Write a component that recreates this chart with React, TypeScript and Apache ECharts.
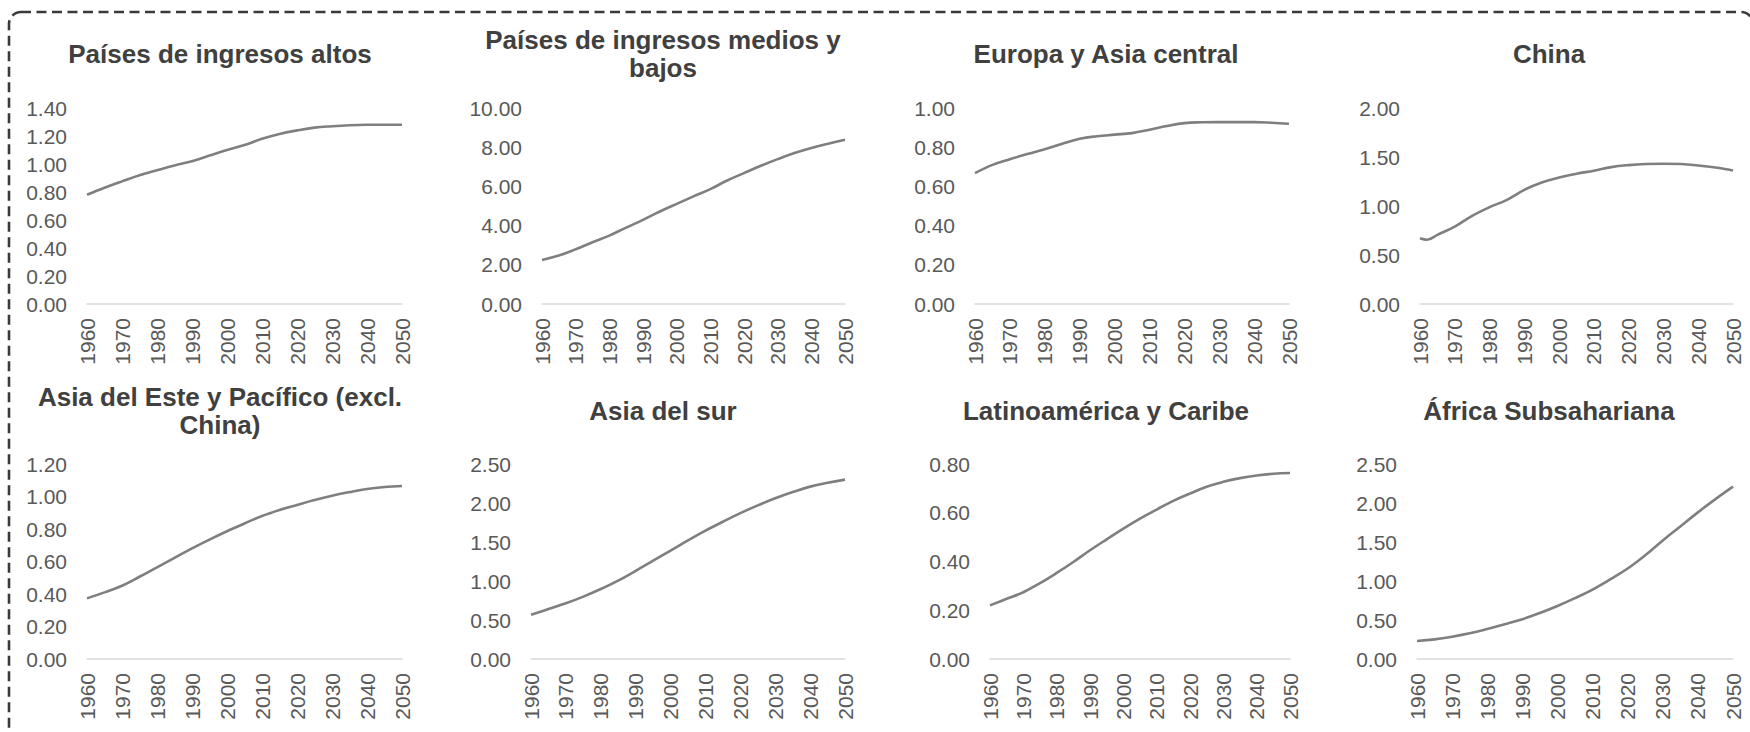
import React, { useEffect, useRef } from "react";
import * as echarts from "echarts";

const YEARS = [1960, 1965, 1970, 1975, 1980, 1985, 1990, 1995, 2000, 2005, 2010, 2015, 2020, 2025, 2030, 2035, 2040, 2045, 2050];
const CHINA_YEARS = [1960, 1962, 1965, 1970, 1975, 1980, 1985, 1990, 1995, 2000, 2005, 2010, 2015, 2020, 2025, 2030, 2035, 2040, 2045, 2050];

const TITLES = [
  "Países de ingresos altos",
  "Países de ingresos medios y\nbajos",
  "Europa y Asia central",
  "China",
  "Asia del Este y Pacífico (excl.\nChina)",
  "Asia del sur",
  "Latinoamérica y Caribe",
  "África Subsahariana",
];

const ALTOS = [0.78, 0.83, 0.876, 0.92, 0.955, 0.99, 1.02, 1.06, 1.1, 1.135, 1.18, 1.215, 1.24, 1.26, 1.27, 1.277, 1.28, 1.28, 1.28];
const MEDIOS_BAJOS = [2.25, 2.47, 2.79, 3.15, 3.49, 3.9, 4.29, 4.72, 5.11, 5.49, 5.86, 6.3, 6.68, 7.05, 7.39, 7.7, 7.96, 8.18, 8.38];
const EUROPA = [0.668, 0.71, 0.739, 0.765, 0.79, 0.818, 0.843, 0.856, 0.864, 0.872, 0.889, 0.908, 0.923, 0.927, 0.928, 0.928, 0.928, 0.925, 0.92];
const CHINA = [0.671, 0.655, 0.705, 0.79, 0.9, 0.988, 1.063, 1.165, 1.24, 1.29, 1.33, 1.36, 1.397, 1.417, 1.428, 1.431, 1.428, 1.414, 1.393, 1.363];
const ASIA_ESTE = [0.373, 0.41, 0.451, 0.506, 0.564, 0.622, 0.681, 0.735, 0.786, 0.834, 0.88, 0.917, 0.948, 0.978, 1.005, 1.027, 1.046, 1.058, 1.065];
const ASIA_SUR = [0.568, 0.64, 0.714, 0.8, 0.897, 1.005, 1.13, 1.26, 1.39, 1.52, 1.645, 1.76, 1.87, 1.97, 2.06, 2.14, 2.21, 2.26, 2.3];
const LATAM = [0.22, 0.247, 0.274, 0.311, 0.353, 0.398, 0.446, 0.491, 0.535, 0.576, 0.613, 0.649, 0.679, 0.707, 0.727, 0.742, 0.753, 0.76, 0.763];
const AFRICA = [0.231, 0.252, 0.286, 0.329, 0.385, 0.445, 0.51, 0.59, 0.68, 0.78, 0.89, 1.02, 1.16, 1.33, 1.52, 1.7, 1.88, 2.05, 2.21];

const Y_MAX = [1.4, 10, 1.0, 2.0, 1.2, 2.5, 0.8, 2.5];
const Y_INTERVAL = [0.2, 2, 0.2, 0.5, 0.2, 0.5, 0.2, 0.5];

const SERIES_VALUES = [ALTOS, MEDIOS_BAJOS, EUROPA, CHINA, ASIA_ESTE, ASIA_SUR, LATAM, AFRICA];
const SERIES_YEARS = [YEARS, YEARS, YEARS, CHINA_YEARS, YEARS, YEARS, YEARS, YEARS];

// layout (pixels)
const GRID_LEFT = [87, 542, 975, 1420, 87, 531, 990, 1417];
const GRID_RIGHT = [402, 845, 1289, 1733, 402, 845, 1290, 1733];
const ROW_TOP = [108, 464];
const ROW_HEIGHT = [196, 195];
const TITLE_X = [220, 663, 1106, 1549];
const TITLE_Y = [54, 411];

const FONT = "'Liberation Sans', Arial, Helvetica, sans-serif";

export default function App() {
  const ref = useRef<HTMLDivElement>(null);

  useEffect(() => {
    if (!ref.current) return;
    const chart = echarts.init(ref.current, undefined, { renderer: "svg" });

    const grids: any[] = [];
    const xAxes: any[] = [];
    const yAxes: any[] = [];
    const series: any[] = [];
    const graphics: any[] = [];

    for (let i = 0; i < 8; i++) {
      const row = i < 4 ? 0 : 1;
      const col = i % 4;
      grids.push({
        left: GRID_LEFT[i],
        width: GRID_RIGHT[i] - GRID_LEFT[i],
        top: ROW_TOP[row],
        height: ROW_HEIGHT[row],
        containLabel: false,
      });
      xAxes.push({
        type: "value",
        gridIndex: i,
        min: 1960,
        max: 2050,
        interval: 10,
        axisLine: { show: true, lineStyle: { color: "#d9d9d9", width: 1.5 } },
        axisTick: { show: false },
        splitLine: { show: false },
        axisLabel: {
          rotate: 90,
          margin: 14,
          color: "#595959",
          fontSize: 21,
          fontFamily: FONT,
          hideOverlap: false,
          showMinLabel: true,
          showMaxLabel: true,
          formatter: (v: number) => String(v),
        },
      });
      yAxes.push({
        type: "value",
        gridIndex: i,
        min: 0,
        max: Y_MAX[i],
        interval: Y_INTERVAL[i],
        axisLine: { show: false },
        axisTick: { show: false },
        splitLine: { show: false },
        axisLabel: {
          margin: 20,
          color: "#595959",
          fontSize: 21,
          fontFamily: FONT,
          formatter: (v: number) => v.toFixed(2),
        },
      });
      const yrs = SERIES_YEARS[i];
      const vals = SERIES_VALUES[i];
      series.push({
        type: "line",
        xAxisIndex: i,
        yAxisIndex: i,
        data: yrs.map((y, k) => [y, vals[k]]),
        showSymbol: false,
        smooth: 0.4,
        lineStyle: { color: "#7f7f7f", width: 2.6 },
        itemStyle: { color: "#7f7f7f" },
      });
      graphics.push({
        type: "text",
        x: TITLE_X[col],
        y: TITLE_Y[row],
        style: {
          text: TITLES[i],
          fill: "#404040",
          font: `bold 26px ${FONT}`,
          textAlign: "center",
          textVerticalAlign: "middle",
          lineHeight: 28,
        },
      });
    }

    graphics.push({
      type: "rect",
      shape: { x: 9, y: 12, width: 1744, height: 728, r: 12 },
      style: { fill: "none", stroke: "#3a3a3a", lineWidth: 2.6, lineDash: [10, 5.5] },
      silent: true,
    });

    chart.setOption({
      animation: false,
      backgroundColor: "#ffffff",
      grid: grids,
      xAxis: xAxes,
      yAxis: yAxes,
      series,
      graphic: graphics,
    });

    return () => chart.dispose();
  }, []);

  return (
    <div
      ref={ref}
      style={{ position: "fixed", left: 0, top: 0, width: 1750, height: 732, background: "#fff" }}
    />
  );
}
